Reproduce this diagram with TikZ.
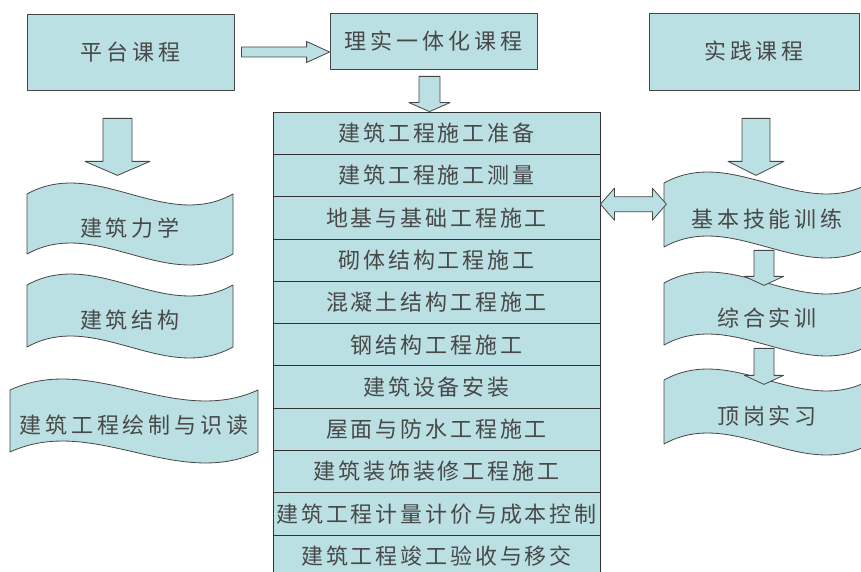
\documentclass[tikz,border=0pt]{standalone}
\usepackage{fontspec}
\newfontfamily\cjk[LetterSpace=18]{Noto Sans CJK SC}
\newfontfamily\cjkrow[LetterSpace=13]{Noto Sans CJK SC}
\usetikzlibrary{calc,positioning}
\definecolor{tiffany}{RGB}{187,224,227}
\definecolor{edge}{RGB}{70,70,70}
\definecolor{ink}{RGB}{72,72,72}
% wave band: x, y (top left), width, height, name, text
\newcommand{\wave}[6]{%
  \draw[wv] (#1,#2) .. controls +(#3/3,-38) and +(-#3/3,38) .. ++(#3,0) -- ++(0,#4)
    .. controls +(-#3/3,38) and +(#3/3,-38) .. ++(-#3,0) -- cycle;
  \node[txt] (#5) at (#1+#3/2,#2+#4/2+4) {#6};}
% block arrows: start, tip, shaft half, head half, head length
\newcommand{\bdown}[5]{%
  \draw[blk] let \p1=(#1), \p2=(#2) in (\x1-#3pt,\y1) -- (\x1+#3pt,\y1) -- (\x1+#3pt,\y2+#5pt)
    -- (\x1+#4pt,\y2+#5pt) -- (\x1,\y2) -- (\x1-#4pt,\y2+#5pt) -- (\x1-#3pt,\y2+#5pt) -- cycle;}
\newcommand{\bright}[5]{%
  \draw[blk] let \p1=(#1), \p2=(#2) in (\x1,\y1+#3pt) -- (\x2-#5pt,\y1+#3pt) -- (\x2-#5pt,\y1+#4pt)
    -- (\x2,\y1) -- (\x2-#5pt,\y1-#4pt) -- (\x2-#5pt,\y1-#3pt) -- (\x1,\y1-#3pt) -- cycle;}
\newcommand{\bboth}[5]{%
  \draw[blk] let \p1=(#1), \p2=(#2) in (\x1,\y1) -- (\x1+#5pt,\y1+#4pt) -- (\x1+#5pt,\y1+#3pt)
    -- (\x2-#5pt,\y1+#3pt) -- (\x2-#5pt,\y1+#4pt) -- (\x2,\y1) -- (\x2-#5pt,\y1-#4pt)
    -- (\x2-#5pt,\y1-#3pt) -- (\x1+#5pt,\y1-#3pt) -- (\x1+#5pt,\y1-#4pt) -- cycle;}
\begin{document}
\begin{tikzpicture}[x=1pt, y=-1pt, line join=round,
  txt/.style={font=\cjk\fontsize{22}{24}\selectfont, text=ink, inner sep=0},
  box/.style={txt, draw=edge, fill=tiffany, line width=.8pt, minimum height=#1},
  row/.style={txt, font=\cjkrow\fontsize{22}{24}\selectfont, draw=edge!70!black, fill=tiffany,
    line width=.8pt, minimum width=327pt, minimum height=42.3pt},
  wv/.style={draw=edge, fill=tiffany, line width=.8pt},
  blk/.style={draw=edge, fill=tiffany, line width=.8pt}]
  \useasboundingbox (0,0) rectangle (861,572);
  \clip (0,0) rectangle (861,572);
  % top boxes
  \node[box=76pt, minimum width=207pt] (pt) at (130.5,52) {平台课程};
  \node[box=56pt, minimum width=207pt] (lsyth) at (433.5,41) {理实一体化课程};
  \node[box=77pt, minimum width=210pt] (sj) at (754,51.5) {实践课程};
  % middle column
  \foreach \t [count=\i] in {建筑工程施工准备,建筑工程施工测量,地基与基础工程施工,砌体结构工程施工,
    混凝土结构工程施工,钢结构工程施工,建筑设备安装,屋面与防水工程施工,建筑装饰装修工程施工,
    建筑工程计量计价与成本控制,建筑工程竣工验收与移交}
    \node[row] (r\i) at (436.5,{112+42.3*\i-21.15}) {\t};
  % left column
  \wave{27}{194}{206}{60}{jzlx}{建筑力学}
  \wave{27}{285}{206}{62}{jzjg}{建筑结构}
  \wave{10}{390}{248}{62}{jzht}{建筑工程绘制与识读}
  % right column
  \wave{664}{183}{206}{64}{jbjn}{基本技能训练}
  \wave{664}{283}{206}{62}{zhsx}{综合实训}
  \wave{664}{380}{206}{64}{dgsx}{顶岗实习}
  % arrows
  \coordinate (a1) at ($(pt.east)+(7,0)$);
  \coordinate (a2) at ($(lsyth.south)+(-4,7)$);
  \coordinate (a3) at ($(pt.south)+(-13,28)$);
  \coordinate (a4) at ($(sj.south)+(2,28)$);
  \coordinate (a5) at ($(r3.north east)+(0,8)$);
  \coordinate (a6) at ($(jbjn.south)+(-3,21)$);
  \coordinate (a7) at ($(zhsx.south)+(-3,20)$);
  \bright{a1}{lsyth.west |- a1}{5}{10.5}{23}
  \bdown{a2}{a2 |- r1.north}{10.5}{20.5}{9}
  \bdown{a3}{$(a3)+(0,57)$}{14.5}{32.5}{14}
  \bdown{a4}{$(a4)+(0,57)$}{14}{28}{14}
  \bboth{a5}{$(a5)+(66,0)$}{7.5}{16}{14}
  \bdown{a6}{$(a6)+(0,35)$}{10}{19.5}{9}
  \bdown{a7}{$(a7)+(0,36)$}{10}{19.5}{9}
\end{tikzpicture}
\end{document}
